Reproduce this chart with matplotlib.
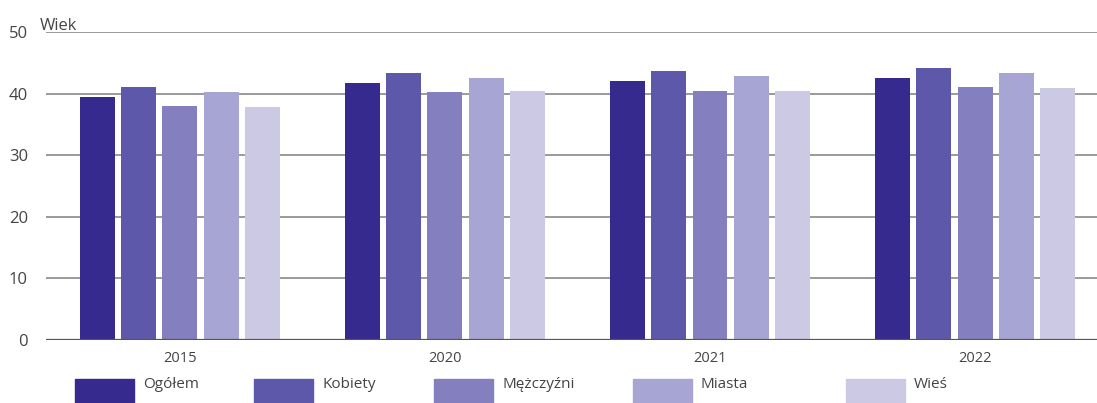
import matplotlib.pyplot as plt
from matplotlib.patches import Rectangle
import numpy as np

plt.rcParams['font.family'] = ['Open Sans', 'DejaVu Sans']

# data
years = ['2015', '2020', '2021', '2022']
series = ['Ogółem', 'Kobiety', 'Mężczyźni', 'Miasta', 'Wieś']
ogolem = [39.4, 41.8, 42.1, 42.6]
kobiety = [41.1, 43.3, 43.6, 44.2]
mezczyzni = [38.0, 40.3, 40.5, 41.1]
miasta = [40.2, 42.5, 42.8, 43.4]
wies = [37.9, 40.5, 40.4, 40.9]
values = [ogolem, kobiety, mezczyzni, miasta, wies]
colors = ['#362a8f', '#5d58a9', '#8480c0', '#a7a5d4', '#cbc9e4']

fig = plt.figure(figsize=(10.97, 4.03), dpi=100)
ax = fig.add_axes([46 / 1097, 1 - 340 / 403, 1 - 46 / 1097, (340 - 32) / 403])

x = np.arange(len(years))
step = 0.156
width = 0.132
for i, (vals, col) in enumerate(zip(values, colors)):
    ax.bar(x + (i - 2) * step, vals, width, color=col, zorder=3)

ax.set_xlim(-0.505, 3.46)
ax.set_ylim(0, 50)
ax.set_yticks(range(0, 51, 10))
ax.set_xticks(x)
ax.set_xticklabels(years)

# grid
for v in range(10, 51, 10):
    ax.axhline(v, color='#7f7f7f', lw=1.1, zorder=1)
ax.axhline(0, color='#555555', lw=1.6, zorder=4)

for s in ax.spines.values():
    s.set_visible(False)
ax.tick_params(axis='both', length=0, colors='#444444')
ax.tick_params(axis='y', labelsize=12, pad=13)
ax.tick_params(axis='x', labelsize=10.5, pad=8)

fig.text(40 / 1097, 1 - 30 / 403, 'Wiek', fontsize=12, color='#444444',
         ha='left', va='baseline')

# legend drawn by hand
leg_x = [75, 254, 434, 633, 846]
for lx, name, col in zip(leg_x, series, colors):
    fig.add_artist(Rectangle((lx / 1097, 0), 59 / 1097, 24 / 403,
                             transform=fig.transFigure, color=col))
    fig.text((lx + 68) / 1097, 1 - 384 / 403, name, fontsize=11,
             color='#444444', ha='left', va='center')

fig.savefig('out.png', dpi=100)
